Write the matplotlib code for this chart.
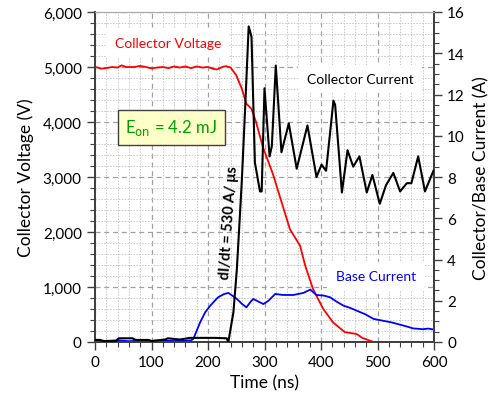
import matplotlib
matplotlib.use("Agg")
import matplotlib.pyplot as plt
from matplotlib.ticker import MultipleLocator, FuncFormatter

plt.rcParams['font.family'] = ['Lato', 'DejaVu Sans']

# Collector voltage (V)
volt_t = [0, 5, 10, 20, 30, 40, 47, 55, 70, 80, 90, 100, 110, 120, 130, 140, 150, 160,
          170, 180, 190, 200, 210, 216, 225, 232, 240, 250, 260, 268, 277, 285, 297, 315,
          327, 345, 363, 372, 386, 404, 421, 442, 463, 473, 493, 497]
volt_v = [5000, 4990, 4970, 4980, 5000, 4990, 5030, 5000, 5000, 5020, 5000, 4975, 4990,
          5000, 4980, 5010, 4990, 5010, 4980, 5010, 4990, 5000, 4965, 4955, 5000, 5015,
          4990, 4850, 4600, 4330, 4240, 4000, 3550, 3050, 2650, 2050, 1750, 1390, 960,
          600, 360, 180, 145, 75, 0, 0]

# Collector current (A)
ic_t = [0, 9, 15, 37, 42, 66, 72, 95, 100, 124, 129, 150, 164, 168, 212, 233, 236, 245,
        251, 257, 260, 266, 272, 277, 283, 292, 295, 300, 309, 313, 320, 330, 343, 357,
        376, 392, 401, 409, 422, 425, 437, 447, 457, 468, 481, 491, 504, 515, 528, 540,
        552, 560, 572, 584, 599]
ic_a = [0.1, 0.1, 0.05, 0.05, 0.18, 0.18, 0.1, 0.1, 0.05, 0.12, 0.18, 0.12, 0.18, 0.2, 0.2,
        0.18, 0.0, 1.45, 3.5, 6.4, 7.9, 11.5, 15.3, 14.8, 8.7, 7.3, 7.3, 12.3, 9.0, 9.5,
        13.4, 9.2, 10.6, 8.4, 10.5, 8.0, 8.6, 8.3, 11.7, 11.5, 7.25, 9.3, 8.5, 9.0, 7.25,
        8.1, 6.7, 7.6, 8.2, 7.3, 7.7, 7.7, 9.0, 7.3, 8.3]

# Base current (A)
ib_t = [0, 20, 40, 60, 80, 100, 120, 140, 160, 170, 174, 186, 195, 204, 212, 218, 228,
        236, 243, 251, 260, 268, 274, 280, 290, 298, 307, 319, 333, 351, 369, 381, 392,
        405, 416, 428, 440, 452, 463, 478, 493, 510, 525, 540, 552, 563, 580, 590, 600]
ib_a = [0.05, 0.05, 0.08, 0.04, 0.06, 0.05, 0.07, 0.05, 0.06, 0.08, 0.15, 0.95, 1.44,
        1.76, 2.0, 2.17, 2.32, 2.38, 2.25, 2.09, 1.85, 1.68, 1.9, 2.09, 1.95, 1.84, 2.0,
        2.33, 2.28, 2.28, 2.38, 2.54, 2.28, 2.25, 2.17, 1.95, 1.76, 1.65, 1.52, 1.35,
        1.12, 1.03, 0.95, 0.84, 0.75, 0.66, 0.62, 0.65, 0.6]

fig = plt.figure(figsize=(4.92, 4.06), dpi=100)
ax1 = fig.add_axes([95/492, 1 - 343/406, 339/492, 330/406])
ax2 = ax1.twinx()

ax1.set_xlim(0, 600)
ax1.set_ylim(0, 6000)
ax2.set_ylim(0, 16)

ax1.set_axisbelow(True)
ax1.xaxis.set_major_locator(MultipleLocator(100))
ax1.xaxis.set_minor_locator(MultipleLocator(20))
ax1.yaxis.set_major_locator(MultipleLocator(1000))
ax1.yaxis.set_minor_locator(MultipleLocator(200))
ax2.yaxis.set_major_locator(MultipleLocator(2))
ax2.yaxis.set_minor_locator(MultipleLocator(0.5))
ax1.yaxis.set_major_formatter(FuncFormatter(lambda v, p: f"{int(v):,}"))

ax1.grid(which='major', color='#a0a0a0', linestyle=(0, (4, 3)), linewidth=0.9)
ax1.grid(which='minor', color='#c8c8c8', linestyle=(0, (1.5, 1.5)), linewidth=0.7)

for ax in (ax1, ax2):
    ax.tick_params(which='major', direction='out', length=6, width=1, colors='#404040',
                   labelsize=11, labelcolor='black')
    ax.tick_params(which='minor', direction='out', length=3.5, width=0.8, colors='#404040')
    for s in ('left', 'bottom', 'right'):
        ax.spines[s].set_color('#404040')
        ax.spines[s].set_linewidth(1.3)
    ax.spines['top'].set_color('#aaaaaa')
    ax.spines['top'].set_linewidth(0.8)

ax1.plot(volt_t, volt_v, color='#ff0000', linewidth=1.3, zorder=2)
ax2.plot(ib_t, ib_a, color='#0000ff', linewidth=1.3, zorder=2)
ax2.plot(ic_t, ic_a, color='black', linewidth=1.5, zorder=3)

ax1.set_xlabel('Time (ns)', fontsize=12.5, labelpad=4)
ax1.set_ylabel('Collector Voltage (V)', fontsize=12.5, labelpad=6)
ax2.set_ylabel('Collector/Base Current (A)', fontsize=12.5, labelpad=6)

wbox = dict(boxstyle='square,pad=0.6', facecolor='white', edgecolor='none')
ax1.text(129, 5436, 'Collector Voltage', color='#ff0000', fontsize=10,
         ha='center', va='center', bbox=wbox, zorder=3)
ax1.text(469, 4780, 'Collector Current', color='black', fontsize=10,
         ha='center', va='center', bbox=wbox, zorder=3)
ax1.text(497, 1200, 'Base Current', color='#0000ff', fontsize=10,
         ha='center', va='center', bbox=wbox, zorder=3)
ax1.text(135, 3909, r'E$_{\mathrm{on}}$ = 4.2 mJ', color='#00a000', fontsize=12,
         ha='center', va='center', zorder=3,
         bbox=dict(boxstyle='square,pad=0.45', facecolor='#ffffc8', edgecolor='#404040',
                   linewidth=1))
ax1.text(238, 2190, 'dI/dt = 530 A/ μs', color='black', fontsize=10.5, fontweight='bold',
         ha='center', va='center', rotation=86, rotation_mode='anchor', zorder=3)

fig.savefig('out.png', dpi=100)
